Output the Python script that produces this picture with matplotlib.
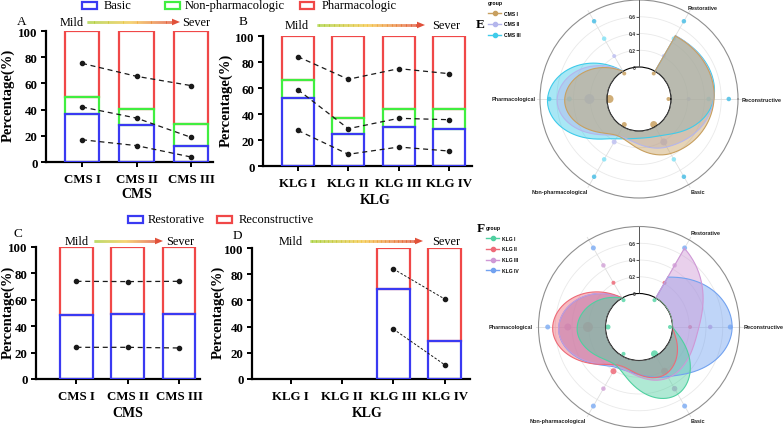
import numpy as np
import matplotlib
matplotlib.use("Agg")
import matplotlib.pyplot as plt
from matplotlib.patches import Rectangle, Polygon
from matplotlib.collections import LineCollection
from matplotlib.colors import LinearSegmentedColormap
from matplotlib.lines import Line2D
from matplotlib.markers import TICKLEFT
import matplotlib.transforms as mtransforms

plt.rcParams['font.family'] = ['Liberation Serif', 'DejaVu Serif']

# ---------------- data ----------------
cms_levels = ["CMS I", "CMS II", "CMS III"]
klg_levels = ["KLG I", "KLG II", "KLG III", "KLG IV"]

cms_basic = [37.0, 28.0, 12.5]
cms_nonpharm = [12.5, 12.5, 16.5]
cms_pharm = [50.5, 59.5, 71.0]
cms_dot_pharm = [75.3, 65.4, 58.3]
cms_dot_nonpharm = [42.0, 33.5, 18.8]
cms_dot_basic = [17.0, 12.5, 3.8]

klg_basic = [52.6, 24.6, 30.0, 28.5]
klg_nonpharm = [13.6, 12.3, 14.1, 15.6]
klg_pharm = [33.8, 63.1, 55.9, 55.9]
klg_dot_pharm = [84.1, 66.7, 74.9, 71.0]
klg_dot_nonpharm = [58.7, 28.7, 36.7, 35.6]
klg_dot_basic = [27.4, 9.0, 14.6, 11.5]

cms_restorative = [48.6, 49.0, 49.0]
cms_reconstructive = [51.4, 51.0, 51.0]
cms_dot_recon = [74.0, 73.8, 74.0]
cms_dot_restor = [24.0, 24.0, 23.5]

klg_surg_idx = [2, 3]            # KLG III, KLG IV (no surgery in KLG I/II)
klg_restorative = [0.0, 0.0, 68.4, 28.8]
klg_reconstructive = [0.0, 0.0, 31.6, 71.2]
klg_dot_recon = [84.0, 61.0]
klg_dot_restor = [38.1, 10.8]

radar_axes = ["Restorative", "Reconstructive", "Basic",
              "Non-pharmacological", "Pharmacological", ""]
radar_angles_deg = [60, 0, -60, -120, -180, -240]
ring_levels = [-0.03, 0.21, 0.45, 0.69]

# dot diameters (px) per ring, per radar axis
E_dot_d = [[4, 4, 7, 5, 8, 4],
           [4, 4, 7, 5, 10, 4],
           [4.5, 4.5, 4.5, 4.5, 5, 4.5],
           [4.5, 4.5, 4.5, 4.5, 4.5, 4.5]]
F_dot_d = [[4, 4, 7, 4, 5, 4],
           [4, 4, 7, 6, 10, 4],
           [4.5, 4.5, 5.5, 4.5, 7, 4.5],
           [5, 5, 5, 5, 5, 5]]

# ---------------- figure ----------------
W, H = 784, 431
fig = plt.figure(figsize=(W / 100, H / 100), dpi=100)


def fx(x):
    return x / W


def fy(y):
    return 1 - y / H


BLUE = '#3a3af2'
GREEN = '#40ee40'
RED = '#f04848'
TICKFONT = dict(fontsize=9.3, fontweight='bold')


def bar_axes(x0, ytop, x1, ybot, xlim):
    ax = fig.add_axes([fx(x0), fy(ybot), (x1 - x0) / W, (ybot - ytop) / H])
    ax.set_xlim(*xlim)
    ax.set_ylim(0, 100)
    for s in ['top', 'right']:
        ax.spines[s].set_visible(False)
    for s in ['left', 'bottom']:
        ax.spines[s].set_linewidth(1.6)
    ax.tick_params(axis='both', length=3.6, width=1.4, pad=2.5)
    ax.tick_params(axis='x', pad=4)
    ax.set_yticks([0, 20, 40, 60, 80, 100])
    ax.set_yticklabels([str(v) for v in [0, 20, 40, 60, 80, 100]], **TICKFONT)
    return ax


def stacked(ax, x, layers, width):
    bottom = np.zeros(len(x))
    for vals, color, z in layers:
        vals = np.asarray(vals, float)
        ax.bar(x, vals, width, bottom=bottom, facecolor='none',
               edgecolor=color, linewidth=1.6, zorder=z)
        bottom = bottom + vals


def labels(ax, xlabel, xl, yl_x, yl_y):
    ax.set_xlabel(xlabel, fontsize=10, fontweight='bold', va='center')
    ax.xaxis.set_label_coords(*xl)
    ax.set_ylabel('Percentage(%)', fontsize=10.5, fontweight='bold', va='center')
    ax.yaxis.set_label_coords(yl_x, yl_y)


# ---- Panel A ----
axA = bar_axes(46, 32, 213, 163, (-0.66, 2.4))
xA = np.arange(len(cms_levels))
stacked(axA, xA, [(cms_basic, BLUE, 4), (cms_nonpharm, GREEN, 3), (cms_pharm, RED, 2)], 0.63)
for d in [cms_dot_pharm, cms_dot_nonpharm, cms_dot_basic]:
    axA.plot(xA, d, color='#1a1a1a', ls=(0, (4, 3)), lw=0.9, marker='o', ms=3, zorder=5)
axA.set_xticks(xA)
axA.set_xticklabels(cms_levels, **TICKFONT)
labels(axA, 'CMS', ((137 - 46) / 167, (163 - 194) / 131), (8 - 46) / 167, (163 - 95) / 131)

# ---- Panel B ----
axB = bar_axes(263, 37, 472, 167, (-0.69, 3.45))
xB = np.arange(len(klg_levels))
stacked(axB, xB, [(klg_basic, BLUE, 4), (klg_nonpharm, GREEN, 3), (klg_pharm, RED, 2)], 0.64)
for d in [klg_dot_pharm, klg_dot_nonpharm, klg_dot_basic]:
    axB.plot(xB, d, color='#1a1a1a', ls=(0, (4, 3)), lw=0.9, marker='o', ms=3, zorder=5)
axB.set_xticks(xB)
axB.set_xticklabels(klg_levels, **TICKFONT)
labels(axB, 'KLG', ((375 - 263) / 209, (167 - 200) / 130), (226 - 263) / 209, (167 - 100) / 130)

# ---- Panel C ----
axC = bar_axes(36, 248, 200, 380, (-0.79, 2.41))
xC = np.arange(len(cms_levels))
stacked(axC, xC, [(cms_restorative, BLUE, 4), (cms_reconstructive, RED, 2)], 0.64)
for d in [cms_dot_recon, cms_dot_restor]:
    axC.plot(xC, d, color='#1a1a1a', ls=(0, (4, 3)), lw=0.9, marker='o', ms=3, zorder=5)
axC.set_xticks(xC)
axC.set_xticklabels(cms_levels, **TICKFONT)
labels(axC, 'CMS', ((128 - 36) / 164, (380 - 414) / 132), (8 - 36) / 164, (380 - 312) / 132)

# ---- Panel D ----
axD = bar_axes(252, 249, 470, 380, (-0.75, 3.49))
xD = np.arange(len(klg_levels))
xs = xD[klg_surg_idx]
stacked(axD, xs, [(np.array(klg_restorative)[klg_surg_idx], BLUE, 4),
                  (np.array(klg_reconstructive)[klg_surg_idx], RED, 2)], 0.64)
for d in [klg_dot_recon, klg_dot_restor]:
    axD.plot(xs, d, color='#1a1a1a', ls=(0, (2.5, 1.8)), lw=0.7, marker='o', ms=3, zorder=5)
axD.set_xticks(xD)
axD.set_xticklabels(klg_levels, **TICKFONT)
labels(axD, 'KLG', ((367 - 252) / 218, (380 - 414) / 131), (218 - 252) / 218, (380 - 312) / 131)

# ---- gradient arrows & Mild/Sever ----
gcmap = LinearSegmentedColormap.from_list('ms', ['#a8d03a', '#f4c647', '#e2563a'])


def grad_arrow(x0, x1, y, head=8):
    n = 80
    xx = np.linspace(x0, x1 - head + 1, n + 1)
    segs = [[(fx(xx[i]), fy(y)), (fx(xx[i + 1]), fy(y))] for i in range(n)]
    lc = LineCollection(segs, colors=gcmap(np.linspace(0, 1, n)), linewidths=2.0,
                        transform=fig.transFigure)
    fig.add_artist(lc)
    tri = Polygon([(fx(x1 - head), fy(y - 3.3)), (fx(x1), fy(y)), (fx(x1 - head), fy(y + 3.3))],
                  closed=True, facecolor='#e0503a', edgecolor='none', transform=fig.transFigure)
    fig.add_artist(tri)


for (mx, sx, y, a0, a1) in [(71.5, 196, 23, 87, 180), (296.5, 446, 26, 317, 425),
                             (77, 180, 242, 94, 163), (290.5, 446, 242, 310, 423)]:
    fig.text(fx(mx), fy(y), 'Mild', ha='center', va='center', fontsize=8.8)
    fig.text(fx(sx), fy(y), 'Sever', ha='center', va='center', fontsize=8.8)
    grad_arrow(a0, a1, y)

# ---- panel letters ----
for t, x, y, w in [('A', 21.5, 22, 'normal'), ('B', 243.5, 22, 'normal'),
                   ('C', 17.5, 234, 'normal'), ('D', 237, 236, 'normal'),
                   ('E', 480, 25, 'bold'), ('F', 480.5, 229, 'bold')]:
    fig.text(fx(x), fy(y), t, ha='center', va='center', fontsize=9.5, fontweight=w)

# ---- bar legends ----


def legend_item(x0, x1, yc, color, text, tx):
    fig.add_artist(Rectangle((fx(x0), fy(yc + 3.5)), (x1 - x0) / W, 7 / H, facecolor='white',
                             edgecolor=color, linewidth=1.6, transform=fig.transFigure))
    fig.text(fx(tx), fy(yc), text, ha='left', va='center', fontsize=9)


legend_item(82, 97, 6.3, BLUE, 'Basic', 104)
legend_item(165, 180, 6.3, GREEN, 'Non-pharmacologic', 185)
legend_item(300, 314, 6.3, RED, 'Pharmacologic', 322)
legend_item(128, 143, 220.5, BLUE, 'Restorative', 148)
legend_item(217, 232, 220.5, RED, 'Reconstructive', 239)

# ---------------- radar panels ----------------
SANS = 'Liberation Sans'


def catmull(tp, vp, n=60):
    tp = np.asarray(tp, float)
    vp = np.asarray(vp, float)
    P = np.concatenate([[2 * vp[0] - vp[1]], vp, [2 * vp[-1] - vp[-2]]])
    out_t, out_v = [], []
    for i in range(1, len(P) - 2):
        s = np.linspace(0, 1, n, endpoint=False)
        p0, p1, p2, p3 = P[i - 1], P[i], P[i + 1], P[i + 2]
        v = 0.5 * (2 * p1 + (-p0 + p2) * s + (2 * p0 - 5 * p1 + 4 * p2 - p3) * s ** 2
                   + (-p0 + 3 * p1 - 3 * p2 + p3) * s ** 3)
        t = tp[i - 1] + (tp[i] - tp[i - 1]) * s
        out_t.append(t)
        out_v.append(v)
    out_t.append([tp[-1]])
    out_v.append([vp[-1]])
    return np.concatenate(out_t), np.clip(np.concatenate(out_v), 0, None)


def radar(cx, cy, R, hole, series, colors, ring_cols, dot_d, leg_labels, leg_xy, lab_pos):
    rmax = 0.8
    ax = fig.add_axes([fx(cx - R), fy(cy + R), 2 * R / W, 2 * R / H], projection='polar')
    ax.set_theta_zero_location('E')
    ax.set_ylim(0, rmax)
    ax.set_rorigin(-rmax * hole / (R - hole))
    ax.set_xticks([])
    ax.set_yticks([])
    ax.grid(False)
    for k, sp in ax.spines.items():
        if k == 'polar':
            sp.set_color('#8f8f8f')
            sp.set_linewidth(0.8)
        else:
            sp.set_visible(False)

    def v_of(px):
        return (px - hole) / (R - hole) * rmax

    tt = np.linspace(0, 2 * np.pi, 400)
    for g in [0.2, 0.4, 0.6]:
        ax.plot(tt, np.full_like(tt, g), color='#e9e9e9', lw=0.6, zorder=0)
    ang = np.radians(radar_angles_deg)
    for a in ang:
        ax.plot([a, a], [0, v_of(R + 3)], color='#dedede', lw=0.6, zorder=0, clip_on=False)
    # radial axis
    ax.plot([np.pi / 2, np.pi / 2], [0, rmax], color='#555555', lw=0.7, zorder=6)
    ax.plot([np.pi / 2] * 4, [0, 0.2, 0.4, 0.6], ls='none', marker=TICKLEFT, ms=2.5,
            mew=0.6, color='#555555', zorder=6)
    off = mtransforms.offset_copy(ax.transData, fig=fig, x=-3.5, y=0, units='dots')
    for g in [0, 0.2, 0.4, 0.6]:
        ax.text(np.pi / 2, g, ('%g' % g), transform=off, ha='right', va='center',
                fontsize=3.6, fontweight='bold', family=SANS, color='#333333', zorder=7)
    # ring dots
    for k, lev in enumerate(ring_levels):
        for j, a in enumerate(ang):
            d = dot_d[k][j] * 0.72
            ax.scatter([a], [lev], s=d * d, color=ring_cols[k], alpha=0.85,
                       edgecolors='none', zorder=1, clip_on=False)
    # filled shapes (last group drawn first)
    order = list(range(len(series)))[::-1]
    for z, i in enumerate(order):
        vals, c = series[i], colors[i]
        ct, cv = catmull(ang, vals)
        th = np.concatenate([ct, ct[::-1]])
        rr = np.concatenate([cv, np.zeros_like(cv)])
        ax.fill(th, rr, facecolor=c, alpha=0.45, edgecolor='none', zorder=2 + 0.01 * z)
        ax.plot(ct, cv, color=c, lw=0.8, zorder=3)
        ax.plot([ct[0], ct[0]], [0, cv[0]], color=c, lw=0.8, zorder=3)
        ax.plot(ct, np.zeros_like(ct), color='#8a8a8a', lw=0.4, alpha=0.5, zorder=3)
    # category labels (pixel offsets from centre)
    for name, (dx, dy, ha) in zip(radar_axes, lab_pos):
        if not name:
            continue
        ax.text(0.5 + dx / (2 * R), 0.5 - dy / (2 * R), name, transform=ax.transAxes,
                ha=ha, va='center', fontsize=4, fontweight='bold',
                family=SANS, color='#222222', clip_on=False, zorder=8)
    # legend
    handles = [Line2D([], [], color=c, marker='o', ms=3, lw=1) for c in colors]
    fig.legend(handles, leg_labels, loc='upper left', bbox_to_anchor=(fx(leg_xy[0]), fy(leg_xy[1])),
               frameon=False, title='group', alignment='left',
               prop=dict(family=SANS, weight='bold', size=3.6),
               title_fontproperties=dict(family=SANS, weight='bold', size=3.8),
               handlelength=2.6, handletextpad=0.6, labelspacing=1.15,
               borderpad=0, borderaxespad=0)
    return ax


def rvals(restor, recon, basic, nonph, pharm):
    return [restor / 100, recon / 100, basic / 100, nonph / 100, pharm / 100, 0.0]


E_series = [rvals(cms_restorative[i], cms_reconstructive[i], cms_basic[i],
                  cms_nonpharm[i], cms_pharm[i]) for i in range(3)]
F_series = [rvals(klg_restorative[i], klg_reconstructive[i], klg_basic[i],
                  klg_nonpharm[i], klg_pharm[i]) for i in range(4)]

radar(639, 100, 99, 32, E_series, ['#c8a060', '#b4b6ec', '#3fcbea'],
      ['#c8a060', '#bfc1f2', '#86e3f6', '#4cbfe6'], E_dot_d,
      cms_levels, (488, 1),
      [(64, -91, 'center'), (103, 0, 'left'), (59, 93, 'center'),
       (-79, 93, 'center'), (-103, 0, 'right'), (0, 0, 'center')])

radar(639, 328, 100.5, 33.5, F_series, ['#4fd0a0', '#ee6a78', '#cf98d6', '#72a2f0'],
      ['#5bd6a8', '#ef6a79', '#d4a6d9', '#82aff4'], F_dot_d,
      klg_levels, (486, 226),
      [(67, -94, 'center'), (105, 0, 'left'), (59, 94, 'center'),
       (-81, 94, 'center'), (-106, 0, 'right'), (0, 0, 'center')])

fig.savefig('out.png', dpi=100)
